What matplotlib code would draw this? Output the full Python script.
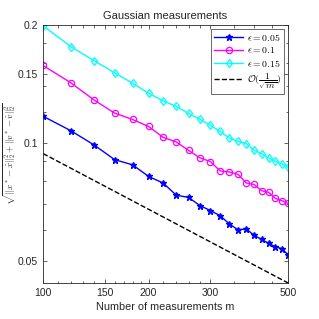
import matplotlib
matplotlib.use('Agg')
import matplotlib.pyplot as plt
from matplotlib.ticker import FixedLocator, NullFormatter

plt.rcParams['font.family'] = ['Liberation Sans', 'DejaVu Sans']
plt.rcParams['mathtext.fontset'] = 'cm'

# Data
m = [100, 120, 140, 160, 180, 200, 220, 240, 260, 280, 300,
     320, 340, 360, 380, 400, 420, 440, 460, 480, 500]
err_005 = [0.117, 0.1075, 0.0988, 0.0907, 0.088, 0.0822, 0.0791, 0.0736, 0.0727, 0.0693, 0.0673,
           0.0653, 0.0622, 0.0601, 0.0604, 0.0582, 0.0568, 0.0555, 0.0544, 0.0538, 0.0519]
err_01 = [0.1576, 0.1424, 0.1286, 0.1192, 0.1148, 0.1102, 0.1034, 0.1006, 0.0958, 0.0917, 0.0897,
          0.0849, 0.0844, 0.0832, 0.0791, 0.0784, 0.0756, 0.0749, 0.0723, 0.0713, 0.0702]
err_015 = [0.199, 0.176, 0.162, 0.151, 0.142, 0.134, 0.128, 0.124, 0.119, 0.115, 0.111,
           0.107, 0.103, 0.101, 0.0996, 0.0958, 0.094, 0.0916, 0.0898, 0.0885, 0.0867]
ref_m = [100, 500]
ref_val = [0.094, 0.044]

xticks = [100, 150, 200, 300, 500]
yticks = [0.05, 0.1, 0.15, 0.2]

fig = plt.figure(figsize=(3.19, 3.19), dpi=100)
ax = fig.add_axes([0.135, 0.113, 0.768, 0.809])

ax.plot(m, err_005, '-*', color='#0000ff', lw=1, ms=4.5, label=r'$\epsilon = 0.05$')
ax.plot(m, err_01, '-o', color='#ff00ff', lw=1, ms=4.5, mfc='none', mew=0.9, label=r'$\epsilon = 0.1$')
ax.plot(m, err_015, '-d', color='#00ffff', lw=1, ms=4.5, mfc='none', mew=0.9, label=r'$\epsilon = 0.15$')
ax.plot(ref_m, ref_val, '--', color='black', lw=1, label=r'$\mathcal{O}(\dfrac{1}{\sqrt{m}})$')

ax.set_xscale('log')
ax.set_yscale('log')
ax.set_xlim(100, 500)
ax.set_ylim(0.044, 0.2)

ax.xaxis.set_major_locator(FixedLocator(xticks))
ax.xaxis.set_minor_locator(FixedLocator(list(range(110, 200, 10)) + [220, 240, 260, 280, 350, 400, 450]))
ax.xaxis.set_major_formatter(plt.FixedFormatter([str(t) for t in xticks]))
ax.xaxis.set_minor_formatter(NullFormatter())
ax.yaxis.set_major_locator(FixedLocator(yticks))
ax.yaxis.set_minor_locator(FixedLocator([0.06, 0.07, 0.08, 0.09, 0.12, 0.14, 0.16, 0.18]))
ax.yaxis.set_major_formatter(plt.FixedFormatter([str(t) for t in yticks]))
ax.yaxis.set_minor_formatter(NullFormatter())

txt = '#262626'
ax.tick_params(which='both', direction='in', top=True, right=True, colors=txt, labelsize=7.5)
ax.tick_params(which='major', length=3, width=0.5)
ax.tick_params(which='minor', length=1.8, width=0.5)
for s in ax.spines.values():
    s.set_color('#262626')
    s.set_linewidth(0.6)

ax.set_title('Gaussian measurements', fontsize=8, color=txt, pad=4)
ax.set_xlabel('Number of measurements m', fontsize=7.8, color=txt, labelpad=3)
ax.set_ylabel(r'$\sqrt{\|x^* - \hat{x}\|_2^2 + \|v^* - \hat{v}\|_2^2}$', fontsize=6.5, color=txt, labelpad=0)

leg = ax.legend(loc='upper right', fontsize=7, frameon=True, fancybox=False,
                handlelength=3.0, borderpad=0.3, labelspacing=0.25, handletextpad=0.4,
                borderaxespad=0.4)
leg.get_frame().set_edgecolor('#262626')
leg.get_frame().set_linewidth(0.6)

fig.savefig('out.png', dpi=100)
